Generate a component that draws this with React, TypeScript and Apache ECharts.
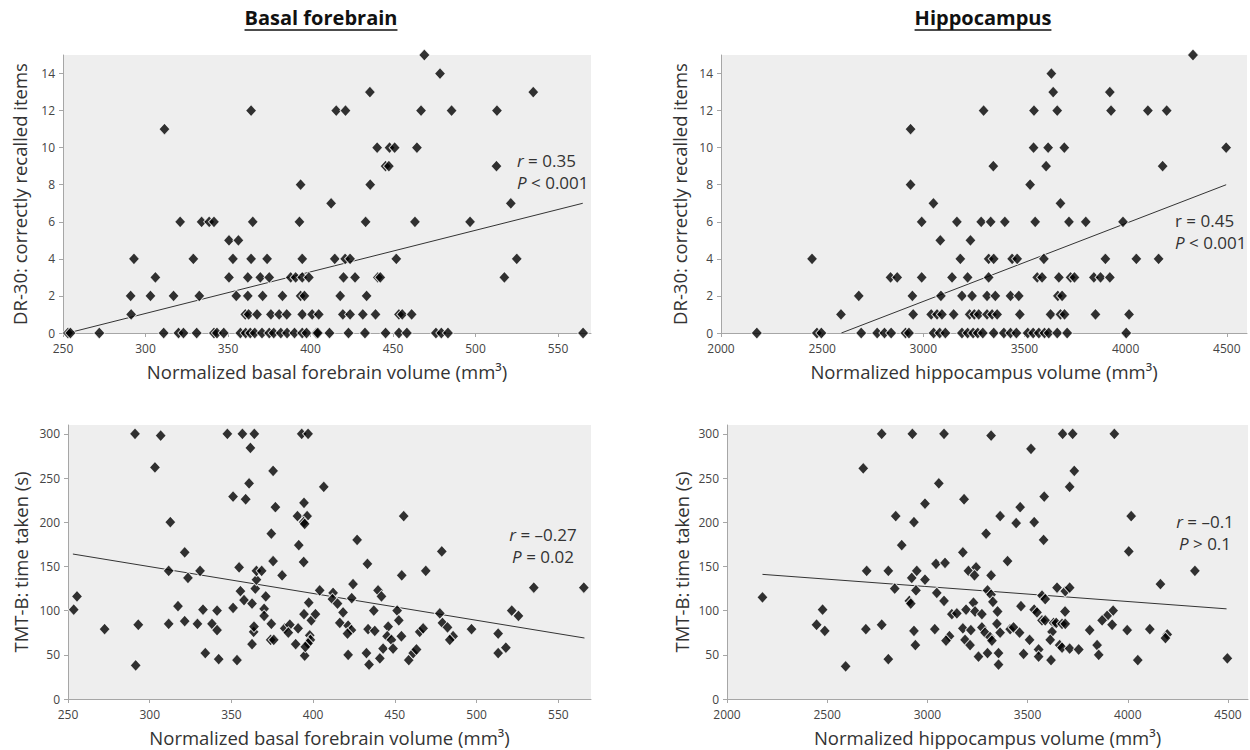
import React, { useEffect, useRef } from "react";
import * as echarts from "echarts";

const FONT = "'Open Sans', 'Noto Sans', sans-serif";

// ---- Data -------------------------------------------------------------
// Basal forebrain volume (mm3) vs DR-30 correctly recalled items
const bfDr30: [number, number][] = [
  [469, 15], [478.5, 14], [436, 13], [535, 13],
  [364, 12], [415.6, 12], [421.2, 12], [467, 12], [485.5, 12], [513, 12],
  [311.5, 11],
  [440.4, 10], [447.9, 10], [451, 10], [464.5, 10],
  [445.5, 9], [447.5, 9], [512.7, 9],
  [394, 8], [436.2, 8],
  [412.5, 7], [521.4, 7],
  [321, 6], [334, 6], [338.6, 6], [341.5, 6], [365, 6], [393.3, 6], [433.4, 6], [463.3, 6], [496.7, 6],
  [350.6, 5], [356.3, 5],
  [293, 4], [329, 4], [353, 4], [364, 4], [373.7, 4], [395, 4], [414.7, 4], [421, 4], [424, 4], [452, 4], [525, 4],
  [306, 3], [350.6, 3], [362, 3], [369.6, 3], [375, 3], [388, 3], [391, 3], [395, 3], [399, 3], [420, 3], [427, 3], [440.8, 3], [442.3, 3], [517.5, 3],
  [291, 2], [303, 2], [317, 2], [332.6, 2], [355, 2], [362, 2], [371, 2], [383, 2], [394, 2], [396.3, 2], [418, 2], [434, 2],
  [291.3, 1], [360.5, 1], [362.5, 1], [367.6, 1], [376, 1], [381, 1], [385.6, 1], [395, 1], [401, 1], [405, 1], [419.6, 1], [424, 1], [431.7, 1], [439.4, 1], [453.6, 1], [455.6, 1], [461.3, 1],
  [253, 0], [254.5, 0], [272, 0], [311, 0], [320, 0], [323, 0], [331, 0], [341.5, 0], [343.3, 0], [347.4, 0], [357.5, 0], [360.7, 0], [363.5, 0], [366.2, 0], [370.6, 0], [375, 0], [377.7, 0], [382, 0], [385.8, 0], [390.3, 0], [395, 0], [397.6, 0], [403.6, 0], [404.4, 0], [411.5, 0], [423, 0], [433, 0], [445.5, 0], [453.6, 0], [458.4, 0], [476, 0], [479.3, 0], [483.3, 0], [565.2, 0],
];
const bfDr30Fit: [number, number][] = [[253, 0], [565, 7]];

// Hippocampus volume (mm3) vs DR-30 correctly recalled items
const hcDr30: [number, number][] = [
  [4333, 15], [3633, 14], [3642, 13], [3922, 13],
  [3298, 12], [3547, 12], [3662, 12], [3928, 12], [4110, 12], [4203, 12],
  [2937, 11],
  [3545, 10], [3617, 10], [3697, 10], [4497, 10],
  [3346, 9], [3607, 9], [4183, 9],
  [2937, 8], [3528, 8],
  [3050, 7], [3678, 7],
  [2992, 6], [3166, 6], [3286, 6], [3333, 6], [3403, 6], [3553, 6], [3720, 6], [3803, 6], [3987, 6],
  [3084, 5], [3233, 5],
  [2450, 4], [3183, 4], [3323, 4], [3348, 4], [3439, 4], [3464, 4], [3596, 4], [3900, 4], [4053, 4], [4163, 4],
  [2838, 3], [2871, 3], [2992, 3], [3142, 3], [3219, 3], [3323, 3], [3563, 3], [3587, 3], [3670, 3], [3728, 3], [3747, 3], [3843, 3], [3876, 3], [3922, 3],
  [2681, 2], [2946, 2], [3087, 2], [3191, 2], [3241, 2], [3315, 2], [3356, 2], [3431, 2], [3472, 2], [3665, 2], [3686, 2],
  [2593, 1], [2950, 1], [3039, 1], [3068, 1], [3092, 1], [3150, 1], [3229, 1], [3252, 1], [3274, 1], [3315, 1], [3340, 1], [3365, 1], [3477, 1], [3629, 1], [3678, 1], [3698, 1], [3851, 1], [4017, 1],
  [2177, 0], [2474, 0], [2496, 0], [2693, 0], [2772, 0], [2808, 0], [2841, 0], [2912, 0], [2929, 0], [3051, 0], [3081, 0], [3109, 0], [3191, 0], [3219, 0], [3246, 0], [3269, 0], [3294, 0], [3348, 0], [3398, 0], [3431, 0], [3460, 0], [3516, 0], [3543, 0], [3571, 0], [3599, 0], [3620, 0], [3662, 0], [3711, 0], [4003, 0],
];
const hcDr30Fit: [number, number][] = [[2595, 0], [4497, 8]];

// Basal forebrain volume (mm3) vs TMT-B time taken (s)
const bfTmt: [number, number][] = [
  [253.5, 101], [255.5, 116], [272.4, 79], [291, 300], [293, 84], [291.4, 38], [303.2, 262], [306.7, 298], [312.6, 200], [311.6, 145],
  [311.6, 85], [317.3, 105], [321.4, 166], [321.4, 88], [323.4, 137], [329.2, 85], [330.8, 145], [332.6, 101], [334, 52], [338.1, 85],
  [341.2, 100], [341.2, 78], [342.2, 45], [347.5, 300], [351, 103], [351, 229], [354.7, 149], [355.5, 122], [356.7, 300], [353.4, 44],
  [358.7, 226], [357.7, 112], [360.8, 244], [361.6, 284], [364, 300], [362.6, 108], [362.6, 62], [363.6, 76], [363.8, 82], [364.6, 125],
  [365.3, 135], [365.3, 145], [368.5, 145], [371, 116], [370, 102], [370, 94], [375.5, 258], [376.9, 217], [374.4, 187], [375.5, 156],
  [374.4, 85], [374, 67], [375.9, 67], [381, 140], [382.6, 80], [385.7, 84], [384.8, 75], [390.4, 207], [391.2, 174], [389.3, 62],
  [390.8, 80], [393, 300], [396.9, 300], [394.4, 222], [396.3, 207], [394.2, 200], [394.8, 198], [394.2, 155], [394.4, 96], [397.3, 109],
  [394.8, 49], [398.9, 89], [401.4, 96], [397.9, 72], [398.3, 67], [396.9, 63], [395.2, 59], [404, 123],
  [406.5, 240], [426.9, 180], [455.4, 207], [478.7, 167], [433.2, 153], [454.2, 140], [468.9, 145], [412.2, 120], [411.8, 113], [414.9, 108],
  [418.3, 98], [424.4, 130], [423.6, 114], [439.7, 123], [441.8, 116], [437.1, 100], [451.4, 100], [452.4, 89], [416.3, 86], [421.4, 83],
  [423.4, 78], [421, 74], [433.6, 79], [437.7, 77], [445.9, 82], [445.3, 71], [447.9, 67], [454, 71], [465.2, 76], [467.3, 80],
  [477.5, 97], [479.1, 86], [482.2, 81], [485.6, 71], [483.6, 67], [496.9, 79], [513.2, 74], [513.2, 52], [517.9, 58], [521.5, 100],
  [525.6, 94], [535, 126], [565.6, 126], [421.4, 50], [432.6, 52], [434.2, 39], [440.8, 46], [442.8, 57], [448.9, 57], [458.5, 44],
  [461.2, 52], [463.2, 56],
];
const bfTmtFit: [number, number][] = [[253, 164], [566, 69]];

// Hippocampus volume (mm3) vs TMT-B time taken (s)
const hcTmt: [number, number][] = [
  [2177, 115], [2447, 84], [2477, 101], [2488, 77], [2592, 37], [2680, 261], [2697, 145], [2693, 79], [2772, 300], [2772, 84],
  [2805, 145], [2805, 45], [2842, 207], [2837, 125], [2872, 174], [2925, 300], [2933, 200], [2922, 137], [2910, 111], [2917, 108],
  [2947, 145], [2943, 123], [2933, 77], [2940, 61], [2988, 221], [2988, 135], [3057, 244], [3043, 153], [3047, 120], [3037, 79],
  [3083, 300], [3088, 154], [3083, 111], [3110, 71], [3093, 66],
  [3318, 298], [3517, 283], [3675, 300], [3725, 300], [3933, 300], [3733, 258], [3710, 240], [3583, 229], [3183, 226], [3463, 217],
  [3363, 207], [3443, 199], [3533, 200], [4017, 207], [3293, 187], [3580, 180], [4005, 167], [3177, 166], [3400, 156], [3205, 145],
  [3243, 149], [3235, 140], [3318, 140], [4335, 145], [4163, 130], [3300, 123], [3318, 118], [3327, 110], [3350, 99], [3647, 126],
  [3688, 122], [3710, 126], [3572, 117], [3588, 113], [3467, 105], [3533, 101], [3547, 98], [3687, 99], [3927, 100], [3897, 94],
  [3872, 89], [3922, 84], [3122, 96], [3147, 97], [3193, 101], [3230, 109], [3238, 99], [3272, 96], [3177, 80], [3217, 78],
  [3272, 81], [3288, 75], [3313, 70], [3322, 66], [3347, 85], [3363, 75], [3413, 79], [3430, 81], [3460, 75], [3510, 67],
  [3572, 89], [3588, 89], [3630, 86], [3622, 76], [3643, 86], [3672, 85], [3688, 85], [3613, 67], [3810, 78], [3997, 78],
  [4110, 79], [4197, 73], [4188, 69], [3188, 67], [3213, 61], [3255, 48], [3300, 52], [3355, 52], [3355, 39], [3480, 51],
  [3555, 56], [3555, 48], [3617, 44], [3660, 61], [3672, 58], [3710, 57], [3755, 56], [3847, 61], [3855, 50], [4050, 44],
  [4497, 46],
];
const hcTmtFit: [number, number][] = [[2177, 141], [4493, 102]];

// Tick labels
const bfTicks = [250, 300, 350, 400, 450, 500, 550];
const hcTicks = [2000, 2500, 3000, 3500, 4000, 4500];
const drTicks = [0, 2, 4, 6, 8, 10, 12, 14];
const tmtTicks = [0, 50, 100, 150, 200, 250, 300];

const titles = ["Basal forebrain", "Hippocampus"];
const xNames = [
  "Normalized basal forebrain volume (mm\u00B3)",
  "Normalized hippocampus volume (mm\u00B3)",
];
const yNames = ["DR-30: correctly recalled items", "TMT-B: time taken (s)"];

// ---- Styling helpers --------------------------------------------------
const AXIS_COLOR = "#a6a6a6";
const LABEL_COLOR = "#444444";
const NAME_COLOR = "#333333";
const NAME_SIZE = 18.5;
const TITLE_SIZE = 20;

function xAxis(gridIndex: number, min: number, max: number, ticks: number[], name: string) {
  return {
    type: "value",
    gridIndex,
    min,
    max,
    name,
    nameLocation: "middle",
    nameGap: 29,
    nameTextStyle: { fontSize: NAME_SIZE, color: NAME_COLOR, fontFamily: FONT },
    axisLine: { show: true, onZero: false, lineStyle: { color: AXIS_COLOR, width: 1 } },
    axisTick: { show: true, inside: false, length: 4, lineStyle: { color: AXIS_COLOR }, customValues: ticks },
    axisLabel: {
      customValues: ticks,
      color: LABEL_COLOR,
      fontSize: 12,
      margin: 9,
      fontFamily: FONT,
      formatter: (v: number) => String(v),
    },
    splitLine: { show: false },
  };
}

function yAxis(gridIndex: number, min: number, max: number, ticks: number[], name: string, gap: number) {
  return {
    type: "value",
    gridIndex,
    min,
    max,
    name,
    nameLocation: "middle",
    nameGap: gap,
    nameTextStyle: { fontSize: NAME_SIZE, color: NAME_COLOR, fontFamily: FONT },
    axisLine: { show: true, onZero: false, lineStyle: { color: AXIS_COLOR, width: 1 } },
    axisTick: { show: true, inside: false, length: 4, lineStyle: { color: AXIS_COLOR }, customValues: ticks },
    axisLabel: {
      customValues: ticks,
      color: LABEL_COLOR,
      fontSize: 12,
      margin: 8,
      fontFamily: FONT,
      formatter: (v: number) => String(v),
    },
    splitLine: { show: false },
  };
}

function scatter(idx: number, data: [number, number][]) {
  return {
    type: "scatter",
    xAxisIndex: idx,
    yAxisIndex: idx,
    data,
    symbol: "diamond",
    symbolSize: [11, 12],
    itemStyle: { color: "#000", borderColor: "#ffffff", borderWidth: 1 },
    z: 3,
  };
}

function fitLine(idx: number, data: [number, number][]) {
  return {
    type: "line",
    xAxisIndex: idx,
    yAxisIndex: idx,
    data,
    showSymbol: false,
    symbol: "none",
    lineStyle: { color: "#333", width: 1 },
    z: 2,
    silent: true,
  };
}

function statText(x: number, y: number, align: string, italicR: boolean, rVal: string, pSym: string, pVal: string) {
  const base = { fontSize: 17, fontFamily: FONT, fill: "#333" };
  const rich = {
    i: { fontStyle: "italic", fontSize: 17, fontFamily: FONT, color: "#333" },
    n: { fontSize: 17, fontFamily: FONT, color: "#333" },
  };
  return [
    {
      type: "text",
      x,
      y,
      style: {
        text: (italicR ? "{i|r}" : "{n|r}") + "{n| = " + rVal + "}",
        align,
        verticalAlign: "middle",
        ...base,
        rich,
      },
    },
    {
      type: "text",
      x,
      y: y + 22,
      style: {
        text: "{i|P}{n| " + pSym + " " + pVal + "}",
        align,
        verticalAlign: "middle",
        ...base,
        rich,
      },
    },
  ];
}

function measure(text: string, font: string): number {
  const c = document.createElement("canvas").getContext("2d");
  if (!c) return text.length * 10;
  c.font = font;
  return c.measureText(text).width;
}

function titleEls(cx: number, text: string) {
  const w = measure(text, `bold ${TITLE_SIZE}px ${FONT}`);
  return [
    {
      type: "text",
      x: cx,
      y: 17,
      style: {
        text,
        align: "center",
        verticalAlign: "middle",
        fontSize: TITLE_SIZE,
        fontWeight: "bold",
        fontFamily: FONT,
        fill: "#111",
      },
    },
    {
      type: "line",
      shape: { x1: cx - w / 2, y1: 30, x2: cx + w / 2, y2: 30 },
      style: { stroke: "#111", lineWidth: 1.6 },
    },
  ];
}

function buildOption() {
  return {
    animation: false,
    backgroundColor: "#ffffff",
    grid: [
      { left: 63, top: 55, width: 528, height: 278, show: true, backgroundColor: "#eeeeee", borderWidth: 0 },
      { left: 721, top: 55, width: 526, height: 278, show: true, backgroundColor: "#eeeeee", borderWidth: 0 },
      { left: 68, top: 425, width: 523, height: 274, show: true, backgroundColor: "#eeeeee", borderWidth: 0 },
      { left: 727, top: 425, width: 521, height: 274, show: true, backgroundColor: "#eeeeee", borderWidth: 0 },
    ],
    xAxis: [
      xAxis(0, 250, 570, bfTicks, xNames[0]),
      xAxis(1, 2000, 4600, hcTicks, xNames[1]),
      xAxis(2, 250, 570, bfTicks, xNames[0]),
      xAxis(3, 2000, 4600, hcTicks, xNames[1]),
    ],
    yAxis: [
      yAxis(0, 0, 15, drTicks, yNames[0], 34),
      yAxis(1, 0, 15, drTicks, yNames[0], 32),
      yAxis(2, 0, 310, tmtTicks, yNames[1], 38),
      yAxis(3, 0, 310, tmtTicks, yNames[1], 36),
    ],
    series: [
      fitLine(0, bfDr30Fit),
      scatter(0, bfDr30),
      fitLine(1, hcDr30Fit),
      scatter(1, hcDr30),
      fitLine(2, bfTmtFit),
      scatter(2, bfTmt),
      fitLine(3, hcTmtFit),
      scatter(3, hcTmt),
    ],
    graphic: [
      ...titleEls(321, titles[0]),
      ...titleEls(983, titles[1]),
      ...statText(517, 160, "left", true, "0.35", "<", "0.001"),
      ...statText(1175, 220, "left", false, "0.45", "<", "0.001"),
      ...statText(543, 534, "center", true, "\u20130.27", "=", "0.02"),
      ...statText(1205, 521, "center", true, "\u20130.1", ">", "0.1"),
    ],
  };
}

export default function App() {
  const ref = useRef<HTMLDivElement>(null);
  useEffect(() => {
    const chart = echarts.init(ref.current!, null, { renderer: "svg" });
    chart.setOption(buildOption() as any);
    return () => chart.dispose();
  }, []);
  return (
    <div
      ref={ref}
      style={{ position: "absolute", left: 0, top: 0, width: 1250, height: 750, background: "#fff" }}
    />
  );
}
